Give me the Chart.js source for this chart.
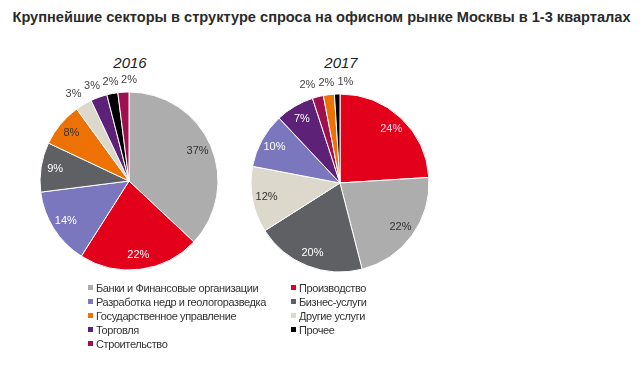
<!DOCTYPE html>
<html lang="ru">
<head>
  <meta charset="UTF-8" />
  <title>Крупнейшие секторы в структуре спроса</title>
  <script src="https://cdn.jsdelivr.net/npm/chart.js"></script>
  <style>
    body {
      margin: 0;
      background: #fff;
      font-family: "Liberation Sans", Arial, sans-serif;
      width: 643px;
      height: 367px;
      position: relative;
      overflow: hidden;
    }
    h1 {
      position: absolute;
      left: 0;
      width: 643px;
      top: 9px;
      margin: 0;
      text-align: center;
      font-size: 14.6px;
      font-weight: bold;
      color: #2b2b2b;
    }
    .year {
      position: absolute;
      top: 54px;
      width: 80px;
      text-align: center;
      font-size: 15px;
      font-style: italic;
      color: #222;
    }
    .pie {
      position: absolute;
      width: 220px;
      height: 220px;
    }
    #legend {
      position: absolute;
      left: 88px;
      top: 281px;
      display: grid;
      grid-template-columns: 203px 120px;
      font-size: 11px;
      letter-spacing: -0.4px;
      color: #333;
    }
    #legend div {
      height: 14px;
      line-height: 14px;
      white-space: nowrap;
    }
    #legend span {
      display: inline-block;
      width: 5px;
      height: 5px;
      margin-right: 3px;
      vertical-align: 2px;
    }
  </style>
</head>
<body>
  <h1>Крупнейшие секторы в структуре спроса на офисном рынке Москвы в 1-3 кварталах</h1>
  <div class="year" style="left:90px">2016</div>
  <div class="year" style="left:301px">2017</div>
  <div class="pie" style="left:19px;top:71px"><canvas id="pie2016"></canvas></div>
  <div class="pie" style="left:230px;top:73px"><canvas id="pie2017"></canvas></div>
  <div id="legend"></div>

<script>
  // sectors and colours
  const sectors = {
    banks: 'Банки и Финансовые организации',
    prod: 'Производство',
    mining: 'Разработка  недр и геологоразведка',
    business: 'Бизнес-услуги',
    gov: 'Государственное  управление',
    other: 'Другие  услуги',
    trade: 'Торговля',
    misc: 'Прочее',
    build: 'Строительство'
  };
  const sectorColors = {
    banks: '#adadad', prod: '#e2001a', mining: '#7b77bf', business: '#5f6064',
    gov: '#ee7203', other: '#ddd8cc', trade: '#5e2178', misc: '#000000', build: '#a0104e'
  };
  const legendOrder = ['banks', 'prod', 'mining', 'business', 'gov', 'other', 'trade', 'misc', 'build'];

  // 2016, clockwise from top
  const keys2016 = ['banks', 'prod', 'mining', 'business', 'gov', 'other', 'trade', 'misc', 'build'];
  const values2016 = [37, 22, 14, 9, 8, 3, 3, 2, 2];
  const labelColors2016 = ['#333', '#fff', '#fff', '#fff', '#333', '#444', '#444', '#444', '#444'];

  // 2017, clockwise from top
  const keys2017 = ['prod', 'banks', 'business', 'other', 'mining', 'trade', 'build', 'gov', 'misc'];
  const values2017 = [24, 22, 20, 12, 10, 7, 2, 2, 1];
  const labelColors2017 = ['#fde', '#333', '#fff', '#333', '#fff', '#fff', '#444', '#444', '#444'];

  // percent labels: inside the slice, small slices outside the rim (spread apart)
  const pctLabels = {
    id: 'pctLabels',
    afterDatasetsDraw(chart, args, opts) {
      const ctx = chart.ctx;
      const ds = chart.data.datasets[0];
      const outside = [];
      ctx.save();
      ctx.font = '11px "Liberation Sans", Arial, sans-serif';
      ctx.textAlign = 'center';
      ctx.textBaseline = 'middle';
      chart.getDatasetMeta(0).data.forEach((arc, i) => {
        const p = arc.getProps(['x', 'y', 'startAngle', 'endAngle', 'outerRadius']);
        const mid = (p.startAngle + p.endAngle) / 2;
        const v = ds.data[i];
        if (v <= opts.outsideMax) {
          const r = p.outerRadius + 12;
          outside.push({ text: v + '%', x: p.x + Math.cos(mid) * r, y: p.y + Math.sin(mid) * r });
        } else {
          const r = p.outerRadius * 0.84;
          ctx.fillStyle = ds.labelColors[i];
          ctx.fillText(v + '%', p.x + Math.cos(mid) * r, p.y + Math.sin(mid) * r);
        }
      });
      outside.sort((a, b) => a.x - b.x);
      const before = outside.reduce((s, o) => s + o.x, 0);
      for (let i = 1; i < outside.length; i++) {
        if (outside[i].x - outside[i - 1].x < opts.gap) outside[i].x = outside[i - 1].x + opts.gap;
      }
      const shift = outside.length ? (before - outside.reduce((s, o) => s + o.x, 0)) / outside.length : 0;
      ctx.fillStyle = '#444';
      outside.forEach(o => ctx.fillText(o.text, o.x + shift, o.y));
      ctx.restore();
    }
  };

  function makePie(id, keys, values, labelColors, outsideMax, gap) {
    const canvas = document.getElementById(id);
    canvas.width = 220;
    canvas.height = 220;
    return new Chart(canvas, {
      type: 'pie',
      data: {
        labels: keys.map(k => sectors[k]),
        datasets: [{
          data: values,
          backgroundColor: keys.map(k => sectorColors[k]),
          borderColor: '#fff',
          borderWidth: 1,
          labelColors: labelColors
        }]
      },
      options: {
        responsive: false,
        animation: false,
        radius: 89,
        plugins: {
          legend: { display: false },
          tooltip: { enabled: false },
          pctLabels: { outsideMax: outsideMax, gap: gap }
        }
      },
      plugins: [pctLabels]
    });
  }

  makePie('pie2016', keys2016, values2016, labelColors2016, 3, 18.5);
  makePie('pie2017', keys2017, values2017, labelColors2017, 2, 19);

  // legend
  const legend = document.getElementById('legend');
  legendOrder.forEach(k => {
    const item = document.createElement('div');
    item.innerHTML = '<span style="background:' + sectorColors[k] + '"></span>' + sectors[k];
    legend.appendChild(item);
  });
</script>
</body>
</html>
